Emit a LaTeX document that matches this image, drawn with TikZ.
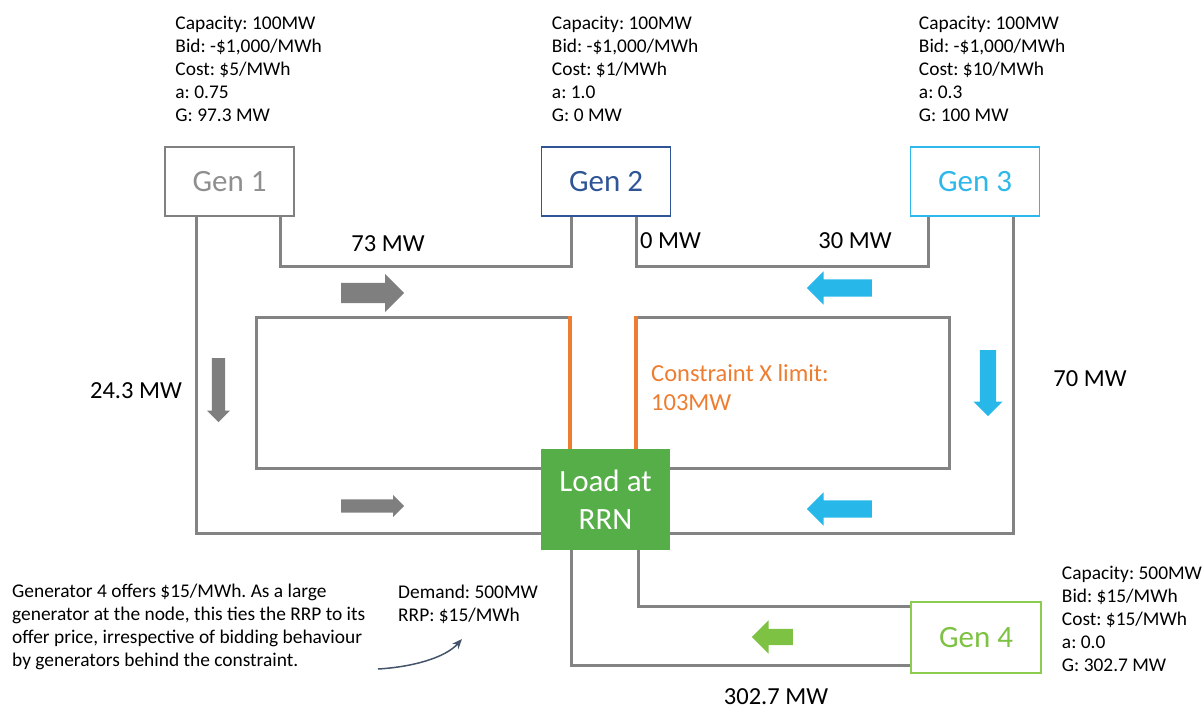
\documentclass[tikz,border=0pt]{standalone}
\usepackage{fontspec}
\setmainfont{Carlito}
\frenchspacing
\usetikzlibrary{positioning, shapes.arrows, arrows.meta}

\definecolor{genone}{HTML}{808080}
\definecolor{genonetext}{HTML}{8F8F8F}
\definecolor{gentwo}{HTML}{2F5597}
\definecolor{genthree}{HTML}{2DB7EA}
\definecolor{genfour}{HTML}{8CCD50}
\definecolor{genfourtext}{HTML}{7DC242}
\definecolor{loadgreen}{HTML}{55AE47}
\definecolor{wiregray}{HTML}{838383}
\definecolor{limitorange}{HTML}{ED7D31}
\definecolor{flowgray}{HTML}{7F7F7F}
\definecolor{flowblue}{HTML}{27B7E9}
\definecolor{flowgreen}{HTML}{7DC242}
\definecolor{notearrow}{HTML}{44546A}

\tikzset{
  genbox/.style={draw=#1, text=#1, line width=1.5pt, minimum width=129pt, minimum height=69pt, font=\fontsize{31}{37}\selectfont},
  loadbox/.style={fill=loadgreen, text=white, minimum width=129pt, minimum height=101pt, align=center, font=\fontsize{31}{38.5}\selectfont},
  info/.style={align=left, inner sep=0pt, font=\fontsize{19.4}{23}\selectfont},
  flowlbl/.style={inner sep=0pt, font=\fontsize{24.5}{29}\selectfont},
  wire/.style={draw=wiregray, line width=3pt},
  limit/.style={draw=limitorange, line width=3.2pt},
  % body half width, head extend, length
  flow/.style n args={3}{single arrow, draw=none, anchor=tail, single arrow head indent=0pt, single arrow tip angle=90,
    inner sep=#1, single arrow head extend=#2, minimum height=#3}
}

\begin{document}
\begin{tikzpicture}[x=1pt, y=-1pt]
\useasboundingbox (0,0) rectangle (1204,709);

% Generators and the regional reference node
\node[genbox=genone, text=genonetext] (gen1) at (229.5,181.5) {Gen 1};
\node[genbox=gentwo] (gen2) at (606,181.5) {Gen 2};
\node[genbox=genthree] (gen3) at (975,181.5) {Gen 3};
\node[genbox=genfour, text=genfourtext, minimum width=130pt, minimum height=71pt] (gen4) at (976,637.5) {Gen 4};
\node[loadbox] (load) at (605.5,499.5) {Load at\\RRN};

% Generator data
\node[info, above right=24pt and 11pt of gen1.north west] (gen1info)
  {Capacity: 100MW\\Bid: -\$1,000/MWh\\Cost: \$5/MWh\\a: 0.75\\G: 97.3 MW};
\node[info, above right=24pt and 11pt of gen2.north west] (gen2info)
  {Capacity: 100MW\\Bid: -\$1,000/MWh\\Cost: \$1/MWh\\a: 1.0\\G: 0 MW};
\node[info, above right=24pt and 9pt of gen3.north west] (gen3info)
  {Capacity: 100MW\\Bid: -\$1,000/MWh\\Cost: \$10/MWh\\a: 0.3\\G: 100 MW};
\node[info, above right=2pt and 20pt of gen4.south east] (gen4info)
  {Capacity: 500MW\\Bid: \$15/MWh\\Cost: \$15/MWh\\a: 0.0\\G: 302.7 MW};

% Corners of the constrained loops
\coordinate (cutL) at (570,317);
\coordinate (cutR) at (636,317);

% Network lines
\draw[wire] (gen1.south -| 196,0) |- (load.west |- 0,533);
\draw[wire] (gen1.south -| 280,0) |- (571,266) -- (gen2.south -| 571,0);
\draw[wire] (gen2.south -| 636,0) |- (928,266) -- (gen3.south -| 928,0);
\draw[wire] (gen3.south -| 1013,0) |- (load.east |- 0,533);
\draw[wire] (cutL) -| (256,468) -- (load.west |- 0,468);
\draw[wire] (cutR) -| (949,468) -- (load.east |- 0,468);
\draw[wire] (load.south -| 571,0) |- (gen4.west |- 0,665);
\draw[wire] (load.south -| 638,0) |- (gen4.west |- 0,606);

% Constraint cut
\draw[limit] (load.north -| cutL) -- ([yshift=1.5pt]cutL);
\draw[limit] (load.north -| cutR) -- ([yshift=1.5pt]cutR);

% Flow directions
\node[flow={10pt}{9pt}{63pt}, fill=flowgray] (f1) at (341,293) {};
\node[flow={6.5pt}{5pt}{64pt}, fill=flowgray, rotate=-90] (f2) at (218.5,358) {};
\node[flow={6.5pt}{4.5pt}{63pt}, fill=flowgray] (f3) at (341,506) {};
\node[flow={8.5pt}{8pt}{65pt}, fill=flowblue, rotate=180] (f4) at (872,288) {};
\node[flow={8pt}{6.5pt}{66pt}, fill=flowblue, rotate=-90] (f5) at (988,350) {};
\node[flow={8.5pt}{8pt}{65pt}, fill=flowblue, rotate=180] (f6) at (872,509) {};
\node[flow={8pt}{8.5pt}{41pt}, fill=flowgreen, rotate=180] (f7) at (793,637) {};

% Flow values
\node[flowlbl] (l73) at (388,244) {73 MW};
\node[flowlbl, anchor=west] (l0) at (640,241) {0 MW};
\node[flowlbl] (l30) at (855,241) {30 MW};
\node[flowlbl] (l24) at (136,391) {24.3 MW};
\node[flowlbl] (l70) at (1090,379) {70 MW};
\node[flowlbl] (l302) at (776,697) {302.7 MW};
\node[flowlbl, anchor=west, align=left, text=limitorange, font=\fontsize{24.5}{29}\selectfont] (limtxt) at (651,387.5)
  {Constraint X limit:\\103MW};

% Demand and note
\node[info, anchor=west] (demand) at (398,604) {Demand: 500MW\\RRP: \$15/MWh};
\node[info, anchor=west] (note) at (12,627)
  {Generator 4 offers \$15/MWh. As a large\\generator at the node, this ties the RRP to its\\offer price, irrespective of bidding behaviour\\by generators behind the constraint.};
\coordinate (noteTail) at (378,669);
\draw[notearrow, line width=1.5pt, -{Stealth[length=10pt, width=8pt]}]
  (noteTail) .. controls (412,667) and (445,658) .. (462,639);

\end{tikzpicture}
\end{document}
